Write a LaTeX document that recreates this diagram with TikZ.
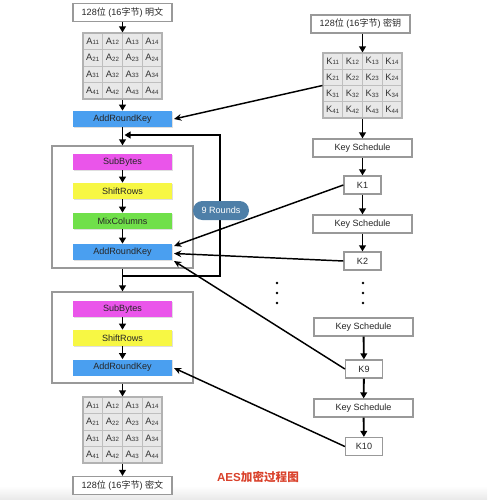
\documentclass[tikz,border=0pt]{standalone}
\usepackage{fontspec}
\setmainfont{Liberation Sans}
\newfontfamily\cjk{Noto Sans CJK SC}
\usetikzlibrary{arrows.meta,shadows}

\definecolor{arkblue}{HTML}{4A9FF0}
\definecolor{sbmag}{HTML}{EA55EA}
\definecolor{sryel}{HTML}{F7F744}
\definecolor{mcgreen}{HTML}{70E04A}
\definecolor{pillblue}{HTML}{4E7FA8}
\definecolor{boxgray}{HTML}{999999}
\definecolor{titlered}{HTML}{D9412B}

\newcommand\cellsub[2]{#1\kern0.1pt\raisebox{-0.5pt}{\fontsize{4.6}{5}\selectfont #2}}

\tikzset{
  base/.style={font=\fontsize{6.8}{8}\selectfont, inner sep=0pt, text=black!85},
  wbox/.style={base, draw=boxgray, fill=white, line width=0.9pt, minimum width=74.25pt, minimum height=13.5pt},
  kbox/.style={wbox, minimum width=27.75pt},
  cbox/.style={base, minimum width=74.25pt, minimum height=12pt,
     drop shadow={shadow xshift=0.6pt,shadow yshift=-0.6pt,opacity=0.25}},
  rbox/.style={draw=boxgray, fill=white, line width=0.9pt, minimum width=105.75pt, inner sep=0pt},
  cell/.style={draw=black!25, fill=black!9, line width=0.5pt, minimum width=14.81pt, minimum height=12.375pt,
     inner sep=0pt, font=\fontsize{7}{8}\selectfont, text=black!80},
  mat/.style={draw=black!30, line width=0.8pt, minimum width=59.25pt, minimum height=49.5pt, inner sep=0pt},
  pill/.style={base, fill=pillblue, text=white, rounded corners=7pt, minimum width=42pt, minimum height=14.25pt},
  arr/.style={-{Triangle[length=4.5pt,width=5pt]}, line width=1.4pt},
  karr/.style={-{Stealth[length=5.5pt,width=5pt]}, line width=1.1pt},
  dotm/.style={circle, fill=black, inner sep=0pt, minimum size=2.2pt},
}

\begin{document}
\begin{tikzpicture}[x=0.75pt,y=-0.75pt]
\useasboundingbox (0,0) rectangle (487,500);
\shade[top color=white, bottom color=black!9] (0,486) rectangle (487,500);

% ---------- left column ----------
\node[wbox] (pt) at (122.5,12.5) {128{\cjk 位} (16{\cjk 字节}) {\cjk 明文}};

\foreach \i in {1,...,4}{\foreach \j in {1,...,4}{
  \node[cell] at ({82.75+19.75*(\j-0.5)},{33+16.5*(\i-0.5)}) {\cellsub{A}{\i\j}};}}
\node[mat] (A1) at (122.5,66) {};

\node[cbox, fill=arkblue] (ark0) at (122.5,119) {AddRoundKey};

\node[rbox, minimum height=91.5pt] (r1) at (122.5,207) {};
\node[cbox, fill=sbmag] (sb1) at (122.5,162) {SubBytes};
\node[cbox, fill=sryel] (sr1) at (122.5,191) {ShiftRows};
\node[cbox, fill=mcgreen] (mc1) at (122.5,221) {MixColumns};
\node[cbox, fill=arkblue] (ark1) at (122.5,252) {AddRoundKey};

\node[rbox, minimum height=68.25pt] (r2) at (122.5,337.5) {};
\node[cbox, fill=sbmag] (sb2) at (122.5,309) {SubBytes};
\node[cbox, fill=sryel] (sr2) at (122.5,338) {ShiftRows};
\node[cbox, fill=arkblue] (ark2) at (122.5,367.5) {AddRoundKey};

\foreach \i in {1,...,4}{\foreach \j in {1,...,4}{
  \node[cell] at ({82.75+19.75*(\j-0.5)},{397+16.5*(\i-0.5)}) {\cellsub{A}{\i\j}};}}
\node[mat] (A2) at (122.5,430) {};

\node[wbox] (ct) at (122.5,485.5) {128{\cjk 位} (16{\cjk 字节}) {\cjk 密文}};

% ---------- right column ----------
\node[wbox] (key) at (360.5,24) {128{\cjk 位} (16{\cjk 字节}) {\cjk 密钥}};
\foreach \i in {1,...,4}{\foreach \j in {1,...,4}{
  \node[cell] at ({322.75+19.75*(\j-0.5)},{53+16.25*(\i-0.5)}) {\cellsub{K}{\i\j}};}}
\node[mat, minimum height=48.75pt] (Kmat) at (362.5,85.5) {};

\node[wbox] (ks1) at (362.5,148) {Key Schedule};
\node[kbox] (k1) at (362.5,185) {K1};
\node[wbox] (ks2) at (362.5,224) {Key Schedule};
\node[kbox] (k2) at (362.5,261) {K2};
\node[wbox] (ks3) at (363.5,327) {Key Schedule};
\node[kbox] (k9) at (364,369) {K9};
\node[wbox] (ks4) at (363.5,408) {Key Schedule};
\node[kbox] (k10) at (364,446.5) {K10};

% dots
\foreach \y/\n in {283/a,293/b,303/c}{
  \node[dotm] (dl\n) at (277,\y) {};
  \node[dotm] (dr\n) at (363,\y) {};}

% ---------- arrows ----------
\draw[arr] (pt) -- (A1);
\draw[arr] (A1) -- (ark0);
\draw[arr] (ark0) -- (r1);
\draw[arr] (sb1) -- (sr1);
\draw[arr] (sr1) -- (mc1);
\draw[arr] (mc1) -- (ark1);
\draw[arr] (r1) -- (r2);
\draw[arr] (sb2) -- (sr2);
\draw[arr] (sr2) -- (ark2);
\draw[arr] (r2) -- (A2);
\draw[arr] (A2) -- (ct);

\draw[arr] (key.south -| Kmat.north) -- (Kmat);
\draw[arr] (Kmat) -- (ks1);
\draw[arr] (ks1) -- (k1);
\draw[arr] (k1) -- (ks2);
\draw[arr] (ks2) -- (k2);
\draw[arr] (ks3) -- (k9);
\draw[arr] (k9) -- (ks4);
\draw[arr] (ks4) -- (k10);

% loop
\coordinate (lpA) at (122.5,276);
\coordinate (lpB) at (220,276);
\coordinate (lpC) at (220,135);
\coordinate (lpD) at (124.5,135);
\draw[arr] (lpA) -- (lpB) -- (lpC) -- (lpD);
\node[pill] (rounds) at (221,210.5) {9 Rounds};

% key connectors
\coordinate (t0) at (174,119);
\coordinate (t1) at (174,246);
\coordinate (t2) at (174,253.5);
\coordinate (t3) at (174,261);
\coordinate (t4) at (174,368);
\draw[karr] (Kmat.west) -- (t0);
\draw[karr] (k1.west) -- (t1);
\draw[karr] (k2.west) -- (t2);
\draw[karr] (k9.west) -- (t3);
\draw[karr] (k10.west) -- (t4);

% title
\node[font=\fontsize{8.7}{10}\selectfont\bfseries, text=titlered, inner sep=0pt] (title) at (258,477) {AES{\cjk 加密过程图}};
\end{tikzpicture}
\end{document}
